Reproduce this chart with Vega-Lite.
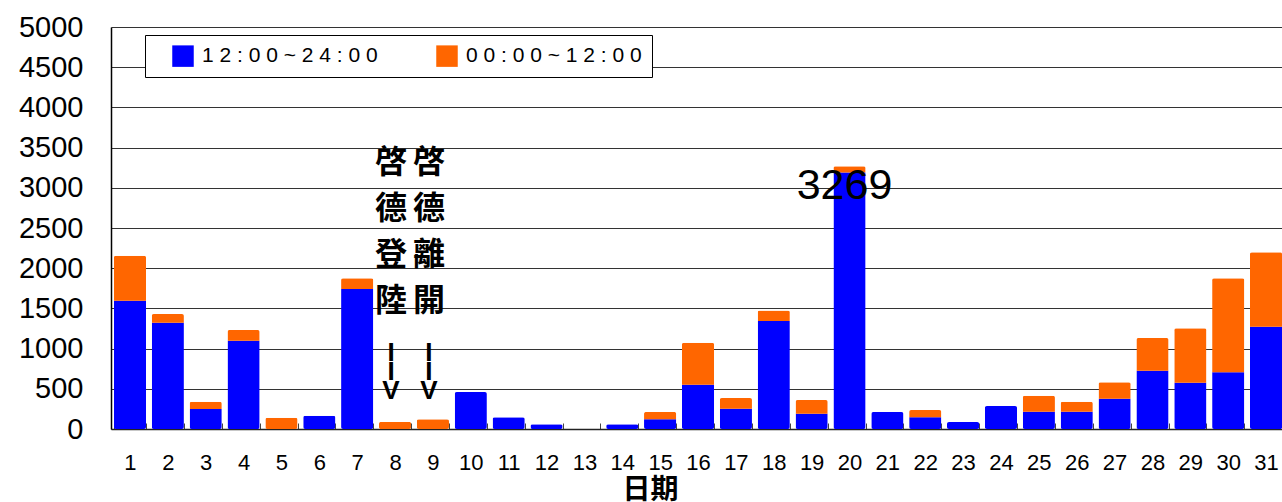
{
  "$schema": "https://vega.github.io/schema/vega-lite/v6.json",
  "autosize": {"type": "none"},
  "padding": {"left": 111, "top": 27, "right": 0, "bottom": 73},
  "width": 1174,
  "height": 402,
  "background": "white",
  "config": {"view": {"stroke": null}},
  "datasets": {
    "counts": [
      {"day": 1, "period": "12:00~24:00", "count": 1595}, {"day": 1, "period": "00:00~12:00", "count": 560},
      {"day": 2, "period": "12:00~24:00", "count": 1322}, {"day": 2, "period": "00:00~12:00", "count": 108},
      {"day": 3, "period": "12:00~24:00", "count": 250}, {"day": 3, "period": "00:00~12:00", "count": 90},
      {"day": 4, "period": "12:00~24:00", "count": 1098}, {"day": 4, "period": "00:00~12:00", "count": 133},
      {"day": 5, "period": "12:00~24:00", "count": 0}, {"day": 5, "period": "00:00~12:00", "count": 140},
      {"day": 6, "period": "12:00~24:00", "count": 166}, {"day": 6, "period": "00:00~12:00", "count": 0},
      {"day": 7, "period": "12:00~24:00", "count": 1741}, {"day": 7, "period": "00:00~12:00", "count": 133},
      {"day": 8, "period": "12:00~24:00", "count": 0}, {"day": 8, "period": "00:00~12:00", "count": 88},
      {"day": 9, "period": "12:00~24:00", "count": 0}, {"day": 9, "period": "00:00~12:00", "count": 120},
      {"day": 10, "period": "12:00~24:00", "count": 460}, {"day": 10, "period": "00:00~12:00", "count": 0},
      {"day": 11, "period": "12:00~24:00", "count": 145}, {"day": 11, "period": "00:00~12:00", "count": 0},
      {"day": 12, "period": "12:00~24:00", "count": 60}, {"day": 12, "period": "00:00~12:00", "count": 0},
      {"day": 13, "period": "12:00~24:00", "count": 0}, {"day": 13, "period": "00:00~12:00", "count": 0},
      {"day": 14, "period": "12:00~24:00", "count": 60}, {"day": 14, "period": "00:00~12:00", "count": 0},
      {"day": 15, "period": "12:00~24:00", "count": 120}, {"day": 15, "period": "00:00~12:00", "count": 92},
      {"day": 16, "period": "12:00~24:00", "count": 550}, {"day": 16, "period": "00:00~12:00", "count": 523},
      {"day": 17, "period": "12:00~24:00", "count": 253}, {"day": 17, "period": "00:00~12:00", "count": 132},
      {"day": 18, "period": "12:00~24:00", "count": 1343}, {"day": 18, "period": "00:00~12:00", "count": 132},
      {"day": 19, "period": "12:00~24:00", "count": 190}, {"day": 19, "period": "00:00~12:00", "count": 170},
      {"day": 20, "period": "12:00~24:00", "count": 3190}, {"day": 20, "period": "00:00~12:00", "count": 79},
      {"day": 21, "period": "12:00~24:00", "count": 210}, {"day": 21, "period": "00:00~12:00", "count": 0},
      {"day": 22, "period": "12:00~24:00", "count": 145}, {"day": 22, "period": "00:00~12:00", "count": 91},
      {"day": 23, "period": "12:00~24:00", "count": 87}, {"day": 23, "period": "00:00~12:00", "count": 0},
      {"day": 24, "period": "12:00~24:00", "count": 286}, {"day": 24, "period": "00:00~12:00", "count": 0},
      {"day": 25, "period": "12:00~24:00", "count": 215}, {"day": 25, "period": "00:00~12:00", "count": 199},
      {"day": 26, "period": "12:00~24:00", "count": 215}, {"day": 26, "period": "00:00~12:00", "count": 125},
      {"day": 27, "period": "12:00~24:00", "count": 377}, {"day": 27, "period": "00:00~12:00", "count": 204},
      {"day": 28, "period": "12:00~24:00", "count": 725}, {"day": 28, "period": "00:00~12:00", "count": 407},
      {"day": 29, "period": "12:00~24:00", "count": 576}, {"day": 29, "period": "00:00~12:00", "count": 676},
      {"day": 30, "period": "12:00~24:00", "count": 705}, {"day": 30, "period": "00:00~12:00", "count": 1169},
      {"day": 31, "period": "12:00~24:00", "count": 1273}, {"day": 31, "period": "00:00~12:00", "count": 924}
    ],
    "notes": [
      {"day": 8, "chars": ["啓", "德", "登", "陸"]},
      {"day": 9, "chars": ["啓", "德", "離", "開"]}
    ],
    "arrows": [
      {"day": 8, "glyphs": ["I", "I", "V"]},
      {"day": 9, "glyphs": ["I", "I", "V"]}
    ],
    "peak": [
      {"day": 20, "label": "3269"}
    ]
  },
  "encoding": {
    "x": {
      "field": "day",
      "type": "ordinal",
      "scale": {"paddingInner": 0.15, "paddingOuter": 0.075},
      "axis": {
        "title": "日期",
        "titleFont": "Noto Sans CJK TC",
        "titleFontWeight": "bold",
        "titleFontSize": 28,
        "titleColor": "black",
        "titleX": 539,
        "titleY": 61,
        "titleAlign": "center",
        "titleBaseline": "middle",
        "labelAngle": 0,
        "labelFont": "Liberation Sans",
        "labelFontSize": 22,
        "labelColor": "black",
        "labelPadding": 29,
        "domainColor": "#222",
        "domainWidth": 1.5,
        "tickBand": "extent",
        "tickSize": -6,
        "tickColor": "#444",
        "ticks": true
      }
    }
  },
  "layer": [
    {
      "data": {"name": "counts"},
      "mark": {"type": "bar", "cornerRadius": 2},
      "encoding": {
        "y": {
          "field": "count",
          "type": "quantitative",
          "stack": "zero",
          "scale": {"domain": [0, 5000], "nice": false},
          "axis": {
            "title": null,
            "values": [0, 500, 1000, 1500, 2000, 2500, 3000, 3500, 4000, 4500, 5000],
            "format": "d",
            "labelFont": "Liberation Sans",
            "labelFontSize": 29,
            "labelColor": "black",
            "labelPadding": 28,
            "ticks": false,
            "domainColor": "black",
            "domainWidth": 1.5,
            "grid": true,
            "gridColor": "#333",
            "gridOpacity": 1,
            "gridWidth": 1
          }
        },
        "color": {
          "field": "period",
          "type": "nominal",
          "scale": {"domain": ["12:00~24:00", "00:00~12:00"], "range": ["#0000FF", "#FF6600"]},
          "legend": {
            "title": null,
            "orient": "none",
            "legendX": 34,
            "legendY": 8,
            "direction": "horizontal",
            "columns": 2,
            "columnPadding": 41,
            "padding": 10,
            "strokeColor": "black",
            "fillColor": "white",
            "symbolType": "square",
            "symbolSize": 462,
            "symbolStrokeWidth": 0,
            "symbolOpacity": 1,
            "symbolOffset": 17,
            "labelFont": "Liberation Sans",
            "labelFontSize": 21,
            "labelColor": "black",
            "labelOffset": 8,
            "labelLimit": 400,
            "labelExpr": "(datum.index == 1 ? '\\u2002\\u2002' : '') + join(split(datum.label, ''), ' ') + (datum.index == 1 ? '\\u2002' : '')"
          }
        },
        "order": {"field": "period", "type": "nominal", "sort": "descending"}
      }
    },
    {
      "data": {"name": "notes"},
      "mark": {
        "type": "text",
        "font": "Noto Sans CJK TC",
        "fontWeight": "bold",
        "fontSize": 32,
        "lineHeight": 46,
        "baseline": "top",
        "align": "center",
        "dx": -4,
        "color": "black"
      },
      "encoding": {
        "y": {"datum": 3500, "type": "quantitative"},
        "text": {"field": "chars"}
      }
    },
    {
      "data": {"name": "arrows"},
      "mark": {
        "type": "text",
        "font": "Liberation Sans",
        "fontWeight": "bold",
        "fontSize": 26,
        "lineHeight": 19,
        "baseline": "top",
        "align": "center",
        "dx": -4,
        "color": "black"
      },
      "encoding": {
        "y": {"datum": 1110, "type": "quantitative"},
        "text": {"field": "glyphs"}
      }
    },
    {
      "data": {"name": "peak"},
      "mark": {
        "type": "text",
        "font": "Liberation Sans",
        "fontSize": 43,
        "baseline": "middle",
        "align": "center",
        "dx": -5,
        "color": "black"
      },
      "encoding": {
        "y": {"datum": 3020, "type": "quantitative"},
        "text": {"field": "label"}
      }
    }
  ]
}
